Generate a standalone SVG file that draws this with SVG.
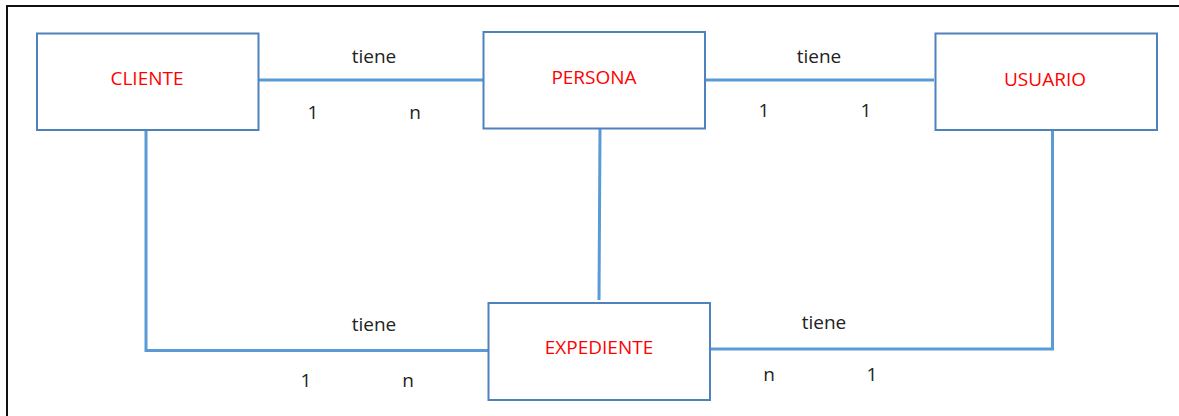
<svg xmlns="http://www.w3.org/2000/svg" width="1179" height="416" viewBox="0 0 1179 416">
<style>
.frame{fill:none;stroke:#111;stroke-width:2}
.box{fill:#fff;stroke:#4f81bd;stroke-width:2}
.lbl{font-family:"Open Sans","Liberation Sans",sans-serif;font-size:19px;fill:#ff0000;text-anchor:middle}
.txt{font-family:"Open Sans","Liberation Sans",sans-serif;font-size:19px;fill:#222;text-anchor:middle}
.con{fill:none;stroke:#5b9bd5;stroke-width:3}
</style>
<rect width="1179" height="416" fill="#fff"/>
<rect class="frame" x="7" y="6" width="1200" height="500"/>
<g id="connectors">
<line class="con" x1="259" y1="80" x2="483" y2="80"/>
<line class="con" x1="706" y1="80" x2="934" y2="80"/>
<polyline class="con" points="146,131 146,350.5 488,350.5"/>
<line class="con" x1="600" y1="129" x2="599" y2="300"/>
<polyline class="con" points="710,349 1052.5,349 1052.5,131"/>
</g>
<g id="labels">
<text class="txt" x="374" y="63">tiene</text>
<text class="txt" x="313" y="119">1</text>
<text class="txt" x="415" y="119">n</text>
<text class="txt" x="819" y="63">tiene</text>
<text class="txt" x="764" y="117">1</text>
<text class="txt" x="866" y="117">1</text>
<text class="txt" x="374" y="331">tiene</text>
<text class="txt" x="306" y="387">1</text>
<text class="txt" x="408" y="387">n</text>
<text class="txt" x="824" y="329">tiene</text>
<text class="txt" x="769" y="381">n</text>
<text class="txt" x="872" y="381">1</text>
</g>
<g id="cliente">
<rect class="box" x="37" y="33.5" width="221.5" height="96.5"/>
<text class="lbl" x="147" y="85">CLIENTE</text>
</g>
<g id="persona">
<rect class="box" x="483.5" y="32" width="221.5" height="96.5"/>
<text class="lbl" x="594" y="84">PERSONA</text>
</g>
<g id="usuario">
<rect class="box" x="935.5" y="33.5" width="221.5" height="96.5"/>
<text class="lbl" x="1045" y="86">USUARIO</text>
</g>
<g id="expediente">
<rect class="box" x="488.5" y="303" width="221.5" height="97"/>
<text class="lbl" x="599" y="354">EXPEDIENTE</text>
</g>
</svg>
